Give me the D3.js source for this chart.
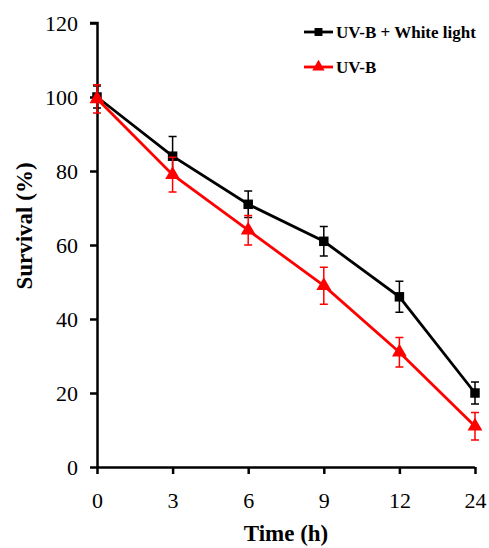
<!DOCTYPE html>
<html>
<head>
<meta charset="utf-8">
<script src="https://cdn.jsdelivr.net/npm/d3@7"></script>
<style>
  html, body { margin: 0; padding: 0; background: #fff; }
  svg { display: block; font-family: "Liberation Serif", "Times New Roman", serif; }
</style>
</head>
<body>
<div id="chart"></div>
<script>
// data
const timeLabels = ["0", "3", "6", "9", "12", "24"];
const whiteLightValues = [100, 84, 71, 61, 46, 20];
const whiteLightErrors = [3, 5.3, 3.6, 4, 4.2, 3];
const uvbValues = [99.5, 79, 64, 49, 31, 11];
const uvbErrors = [3.8, 4.7, 4, 5, 4, 3.7];
const yTicks = [0, 20, 40, 60, 80, 100, 120];

const series = [
  { name: "UV-B + White light", values: whiteLightValues, errors: whiteLightErrors, color: "#000000", symbol: d3.symbolSquare, size: 90 },
  { name: "UV-B", values: uvbValues, errors: uvbErrors, color: "#ff0000", symbol: d3.symbolTriangle, size: 95 }
];

const width = 489, height = 548;
const margin = { top: 23, right: 14, bottom: 81, left: 97 };

const svg = d3.select("#chart").append("svg")
  .attr("width", width)
  .attr("height", height);

const x = d3.scalePoint()
  .domain(timeLabels)
  .range([margin.left, width - margin.right]);

const y = d3.scaleLinear()
  .domain([0, 120])
  .range([height - margin.bottom, margin.top]);

// axes
const xAxis = svg.append("g")
  .attr("transform", `translate(0,${y(0)})`)
  .call(d3.axisBottom(x).tickSize(7).tickPadding(18));

const yAxis = svg.append("g")
  .attr("transform", `translate(${margin.left},0)`)
  .call(d3.axisLeft(y).tickValues(yTicks).tickSize(7).tickPadding(12));

[xAxis, yAxis].forEach(g => {
  g.select(".domain").attr("stroke", "#000").attr("stroke-width", 2.5);
  g.selectAll(".tick line").attr("stroke", "#000").attr("stroke-width", 2.5);
  g.selectAll(".tick text")
    .attr("fill", "#000")
    .style("font-family", "'Liberation Serif', 'Times New Roman', serif")
    .style("font-size", "22px");
});
yAxis.select(".domain").attr("d", `M0.5,${y(0)}V${y(120)}H-7`);
xAxis.select(".domain").attr("d", `M${x("0")},0.5H${x("24")}`);

// axis titles
svg.append("text")
  .attr("x", (x("0") + x("24")) / 2)
  .attr("y", 541)
  .attr("text-anchor", "middle")
  .style("font-size", "23px")
  .style("font-weight", "bold")
  .text("Time (h)");

svg.append("text")
  .attr("transform", `translate(32,226) rotate(-90)`)
  .attr("text-anchor", "middle")
  .style("font-size", "23px")
  .style("font-weight", "bold")
  .text("Survival (%)");

const line = d3.line()
  .x((d, i) => x(timeLabels[i]))
  .y(d => y(d));

series.forEach(s => {
  const g = svg.append("g");

  // error bars
  const cap = 4;
  s.values.forEach((v, i) => {
    const cx = x(timeLabels[i]);
    const e = s.errors[i];
    g.append("path")
      .attr("d", `M${cx},${y(v + e)}V${y(v - e)}M${cx - cap},${y(v + e)}H${cx + cap}M${cx - cap},${y(v - e)}H${cx + cap}`)
      .attr("fill", "none")
      .attr("stroke", s.color)
      .attr("stroke-width", 1.5);
  });

  g.append("path")
    .datum(s.values)
    .attr("d", line)
    .attr("fill", "none")
    .attr("stroke", s.color)
    .attr("stroke-width", 2.8);

  g.selectAll("path.mark")
    .data(s.values)
    .join("path")
    .attr("class", "mark")
    .attr("transform", (d, i) => `translate(${x(timeLabels[i])},${y(d)})`)
    .attr("d", d3.symbol().type(s.symbol).size(s.size))
    .attr("fill", s.color);
});

// legend
const legend = svg.append("g");
series.forEach((s, i) => {
  const ly = 32 + i * 35;
  legend.append("line")
    .attr("x1", 304).attr("x2", 333)
    .attr("y1", ly).attr("y2", ly)
    .attr("stroke", s.color)
    .attr("stroke-width", 2.8);
  legend.append("path")
    .attr("transform", `translate(318.5,${ly})`)
    .attr("d", d3.symbol().type(s.symbol).size(s.size * 0.7))
    .attr("fill", s.color);
  legend.append("text")
    .attr("x", 336)
    .attr("y", ly + 6)
    .style("font-size", "17px")
    .style("font-weight", "bold")
    .text(s.name);
});
</script>
</body>
</html>
